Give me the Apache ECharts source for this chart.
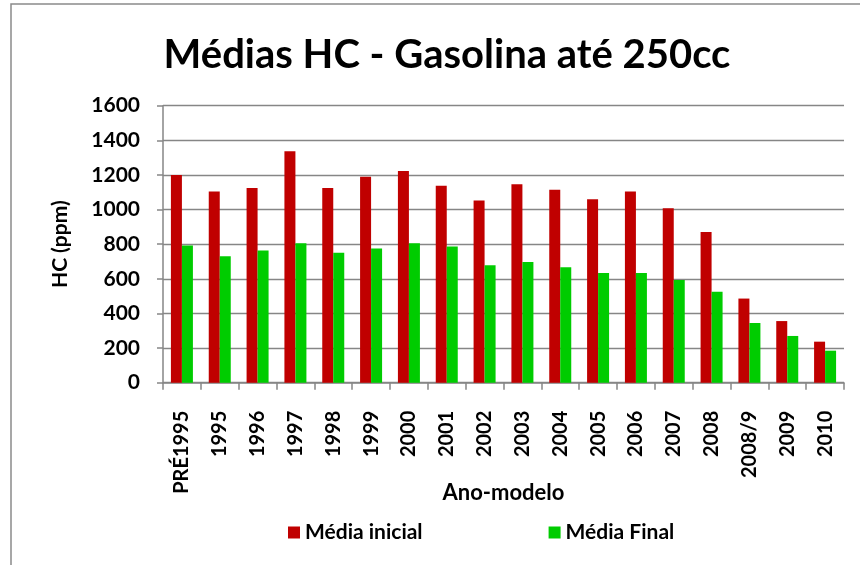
<!DOCTYPE html>
<html>
<head>
<meta charset="utf-8">
<script src="https://cdn.jsdelivr.net/npm/echarts@6/dist/echarts.min.js"></script>
<style>
html,body{margin:0;padding:0;background:#fff;}
#chart{width:860px;height:565px;}
</style>
</head>
<body>
<div id="chart"></div>
<script>
var categories = ['PRÉ1995','1995','1996','1997','1998','1999','2000','2001','2002','2003','2004','2005','2006','2007','2008','2008/9','2009','2010'];
var mediaInicial = [1200,1105,1125,1337,1125,1190,1223,1137,1052,1147,1114,1060,1104,1008,871,486,356,237];
var mediaFinal = [792,730,763,805,751,775,805,786,678,697,667,634,634,593,526,345,270,185];
var yTicks = {min:0, max:1600, interval:200};

var FONT = 'Lato';
var chart = echarts.init(document.getElementById('chart'), null, {renderer:'canvas'});
chart.setOption({
  animation:false,
  backgroundColor:'#fff',
  graphic:[{type:'rect', shape:{x:11,y:4,width:900,height:620}, style:{fill:'none', stroke:'#8a8a8a', lineWidth:1.5}, silent:true}],
  title:{
    text:'Médias HC - Gasolina até 250cc',
    left:442, textAlign:'center', top:30,
    textStyle:{fontFamily:FONT, fontWeight:'bold', fontSize:40, color:'#000'}
  },
  legend:{
    left:283, top:517, itemGap:126, itemWidth:12, itemHeight:12,
    icon:'rect',
    textStyle:{fontFamily:FONT, fontWeight:'bold', fontSize:21, color:'#000'},
    data:['Média inicial','Média Final']
  },
  grid:{left:163, top:105.7, right:16, bottom:182.3, containLabel:false},
  xAxis:{
    type:'category', data:categories,
    name:'Ano-modelo', nameLocation:'middle', nameGap:99, nameMoveOverlap:false,
    nameTextStyle:{fontFamily:FONT, fontWeight:'bold', fontSize:22, color:'#000'},
    axisLine:{lineStyle:{color:'#868686', width:1.5}},
    axisTick:{show:true, length:7, alignWithLabel:false, lineStyle:{color:'#868686', width:1.5}},
    axisLabel:{rotate:90, margin:28, interval:0, fontFamily:FONT, fontWeight:'bold', fontSize:20, color:'#000'}
  },
  yAxis:{
    type:'value', min:yTicks.min, max:yTicks.max, interval:yTicks.interval,
    name:'HC (ppm)', nameLocation:'middle', nameGap:92, nameRotate:90, nameMoveOverlap:false,
    nameTextStyle:{fontFamily:FONT, fontWeight:'bold', fontSize:21, color:'#000'},
    axisLine:{show:true, lineStyle:{color:'#868686', width:1.5}},
    axisTick:{show:true, length:6, lineStyle:{color:'#868686', width:1.5}},
    splitLine:{lineStyle:{color:'#868686', width:1.3}},
    axisLabel:{margin:23, fontFamily:FONT, fontWeight:'bold', fontSize:21, color:'#000', formatter:function(v){return String(v);}}
  },
  series:[
    {name:'Média inicial', type:'bar', data:mediaInicial, barWidth:11, barGap:'0%', itemStyle:{color:'#C00000'}},
    {name:'Média Final', type:'bar', data:mediaFinal, barWidth:11, barGap:'0%', itemStyle:{color:'#00CC00'}}
  ]
});
</script>
</body>
</html>
